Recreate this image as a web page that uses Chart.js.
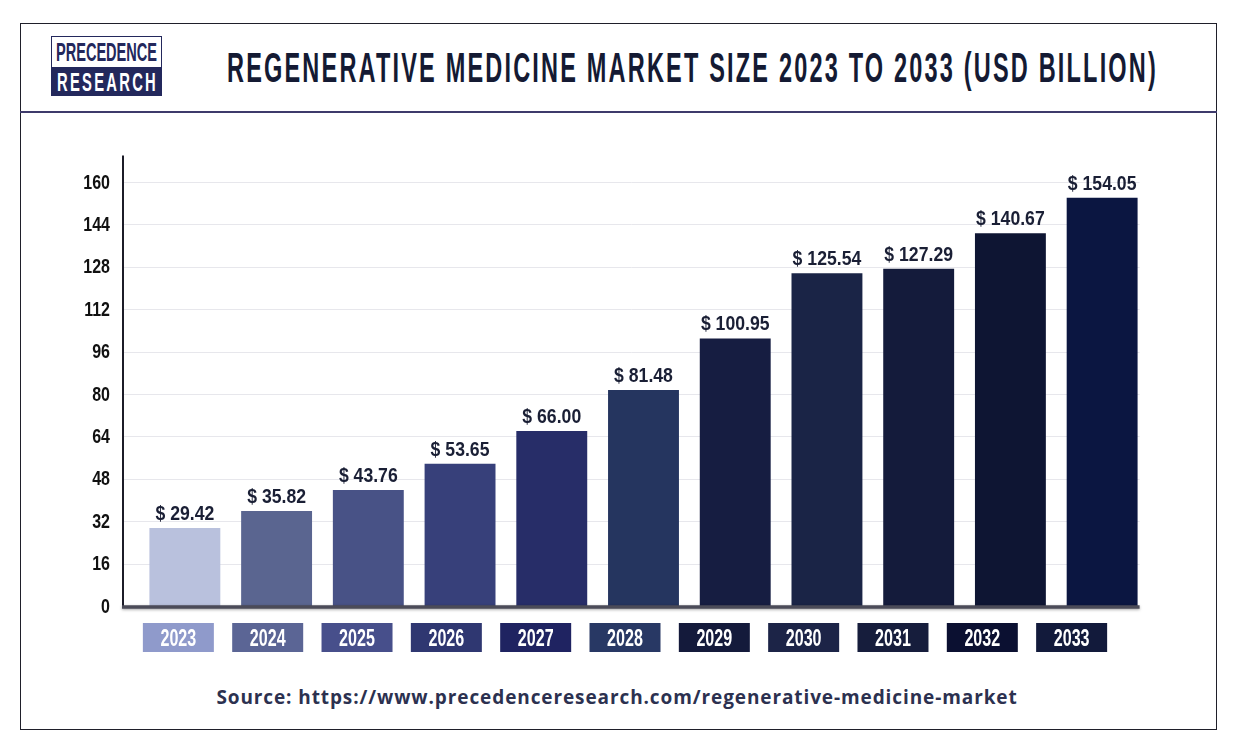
<!DOCTYPE html>
<html>
<head>
<meta charset="utf-8">
<title>Regenerative Medicine Market Size 2023 to 2033</title>
<script src="https://cdn.jsdelivr.net/npm/chart.js@4/dist/chart.umd.min.js"></script>
<style>
    html, body { margin: 0; padding: 0; background: #fff; }
    body { width: 1234px; height: 754px; position: relative; overflow: hidden; }
    .frame { position: absolute; left: 20px; top: 23px; width: 1197px; height: 707px; border: 1px solid #1f1f2a; box-sizing: border-box; }
    .divider { position: absolute; left: 20px; top: 111px; width: 1197px; height: 2px; background: #3e3a6b; }
    .logo { position: absolute; left: 51px; top: 36px; width: 111px; height: 60px; border: 1px solid #23285c; box-sizing: border-box; font-family: 'Liberation Sans', Arial, sans-serif; font-weight: bold; overflow: hidden; }
    .logo .top { height: 30px; color: #23285c; position: relative; }
    .logo .bot { height: 30px; background: #23285c; color: #fff; position: relative; }
    .fit { position: absolute; white-space: nowrap; transform-origin: 0 0; }
    .logo .top .fit { left: 4px; top: 1px; font-size: 25px; line-height: 28px; }
    .logo .bot .fit { left: 5px; top: 1px; font-size: 26px; line-height: 28px; letter-spacing: 4px; }
    .title { left: 227px; top: 43px; font-family: 'Liberation Sans', Arial, sans-serif; font-weight: bold; font-size: 43px; line-height: 48px; letter-spacing: 4px; color: #141a33; }
    .source { position: absolute; left: 0; width: 1234px; text-align: center; top: 684px; white-space: nowrap; font-family: 'Open Sans', sans-serif; font-weight: 700; font-size: 19px; letter-spacing: 0.9px; color: #2c3150; }
    .chart-box { position: absolute; left: 0; top: 120px; width: 1234px; height: 560px; }
</style>
</head>
<body>
<div class="frame"></div>
<div class="divider"></div>
<div class="logo">
    <div class="top"><span class="fit" data-width="101">PRECEDENCE</span></div>
    <div class="bot"><span class="fit" data-width="101">RESEARCH</span></div>
</div>
<div class="fit title" data-width="931">REGENERATIVE MEDICINE MARKET SIZE 2023 TO 2033 (USD BILLION)</div>
<div class="chart-box"><canvas id="market-chart"></canvas></div>
<div class="source">Source: https://www.precedenceresearch.com/regenerative-medicine-market</div>

<script>
const YEARS = ['2023', '2024', '2025', '2026', '2027', '2028', '2029', '2030', '2031', '2032', '2033'];
const MARKET_SIZE = [29.42, 35.82, 43.76, 53.65, 66.00, 81.48, 100.95, 125.54, 127.29, 140.67, 154.05];
const Y_TICKS = [0, 16, 32, 48, 64, 80, 96, 112, 128, 144, 160];

const BAR_COLORS = ['#b9c1dd', '#5a6590', '#485286', '#37407a', '#272d68', '#25355f', '#161d41', '#1a2446', '#141b3b', '#0e1533', '#0b1641'];
const BOX_COLORS = ['#8f9acb', '#5b6595', '#474f8b', '#2f3771', '#1f2361', '#283864', '#141a3b', '#1c2447', '#161d3c', '#0b1031', '#121a3b'];

const FONT = "'Liberation Sans', Arial, sans-serif";

// no condensed face is installed, so squeeze text horizontally
function fitText() {
    document.querySelectorAll('.fit').forEach(el => {
        const target = Number(el.dataset.width);
        const w = el.getBoundingClientRect().width;
        if (w > 0) el.style.transform = `scaleX(${target / w})`;
    });
}

function drawNarrow(ctx, text, x, y, squeeze) {
    ctx.save();
    ctx.translate(x, y);
    ctx.scale(squeeze, 1);
    ctx.fillText(text, 0, 0);
    ctx.restore();
}

// grid lines, axis lines, tick text, value labels and the year boxes
const decorations = {
    id: 'decorations',
    beforeDatasetsDraw(chart) {
        const { ctx, chartArea, scales: { y } } = chart;
        const meta = chart.getDatasetMeta(0);
        const left = chartArea.left - 16;
        const last = meta.data[meta.data.length - 1];
        const right = last.x + last.width / 2 + 2;

        ctx.save();
        ctx.strokeStyle = '#e7e7ec';
        ctx.lineWidth = 1;
        Y_TICKS.forEach(v => {
            if (v === 0) return;
            const py = Math.round(y.getPixelForValue(v)) + 0.5;
            ctx.beginPath();
            ctx.moveTo(left, py);
            ctx.lineTo(right, py);
            ctx.stroke();
        });

        ctx.fillStyle = '#111111';
        ctx.font = `bold 20px ${FONT}`;
        ctx.textAlign = 'right';
        ctx.textBaseline = 'middle';
        Y_TICKS.forEach(v => {
            drawNarrow(ctx, String(v), chartArea.left - 29, y.getPixelForValue(v) + 1, 0.8);
        });
        ctx.restore();
    },
    afterDatasetsDraw(chart) {
        const { ctx, chartArea, scales: { y } } = chart;
        const meta = chart.getDatasetMeta(0);
        const left = chartArea.left - 16;
        const last = meta.data[meta.data.length - 1];
        const right = last.x + last.width / 2 + 2;
        const base = y.getPixelForValue(0);

        ctx.save();
        ctx.strokeStyle = '#1c1c28';
        ctx.lineWidth = 2;
        ctx.beginPath();
        ctx.moveTo(left, chartArea.top);
        ctx.lineTo(left, base + 2);
        ctx.stroke();

        ctx.shadowColor = 'rgba(0,0,0,0.35)';
        ctx.shadowBlur = 3;
        ctx.shadowOffsetY = 1;
        ctx.strokeStyle = '#4b4b58';
        ctx.lineWidth = 3.5;
        ctx.beginPath();
        ctx.moveTo(left - 1, base + 1);
        ctx.lineTo(right, base + 1);
        ctx.stroke();
        ctx.restore();

        ctx.save();
        ctx.font = `bold 21px ${FONT}`;
        ctx.fillStyle = '#1a1f35';
        ctx.textAlign = 'center';
        ctx.textBaseline = 'alphabetic';
        meta.data.forEach((bar, i) => {
            drawNarrow(ctx, '$ ' + MARKET_SIZE[i].toFixed(2), bar.x, bar.y - 8, 0.84);
        });

        // year boxes sit on a slightly tighter spacing than the bars
        const boxTop = base + 17;
        ctx.font = `bold 23px ${FONT}`;
        meta.data.forEach((bar, i) => {
            const cx = bar.x - 6.5 - 2.4 * i;
            ctx.fillStyle = BOX_COLORS[i];
            ctx.fillRect(cx - 35.5, boxTop, 71, 29);
            ctx.fillStyle = '#ffffff';
            drawNarrow(ctx, YEARS[i], cx, boxTop + 23, 0.7);
        });
        ctx.restore();
    }
};

function initChart() {
    const ctx = document.getElementById('market-chart').getContext('2d');

    new Chart(ctx, {
        type: 'bar',
        data: {
            labels: YEARS,
            datasets: [{
                label: 'Market Size (USD Billion)',
                data: MARKET_SIZE,
                backgroundColor: BAR_COLORS,
                borderWidth: 0,
                barPercentage: 0.773,
                categoryPercentage: 1
            }]
        },
        options: {
            responsive: true,
            maintainAspectRatio: false,
            animation: false,
            layout: {
                padding: { left: 39, right: 86, top: 35.5, bottom: 74 }
            },
            plugins: {
                legend: { display: false },
                tooltip: { enabled: false }
            },
            scales: {
                x: {
                    grid: { display: false },
                    border: { display: false },
                    ticks: { display: false },
                    afterFit(scale) { scale.height = 0; }
                },
                y: {
                    min: 0,
                    max: 170,
                    grid: { display: false, drawTicks: false },
                    border: { display: false },
                    ticks: { display: false },
                    afterFit(scale) { scale.width = 100; }
                }
            }
        },
        plugins: [decorations]
    });
}

document.addEventListener('DOMContentLoaded', () => {
    fitText();
    initChart();
});
</script>
</body>
</html>
